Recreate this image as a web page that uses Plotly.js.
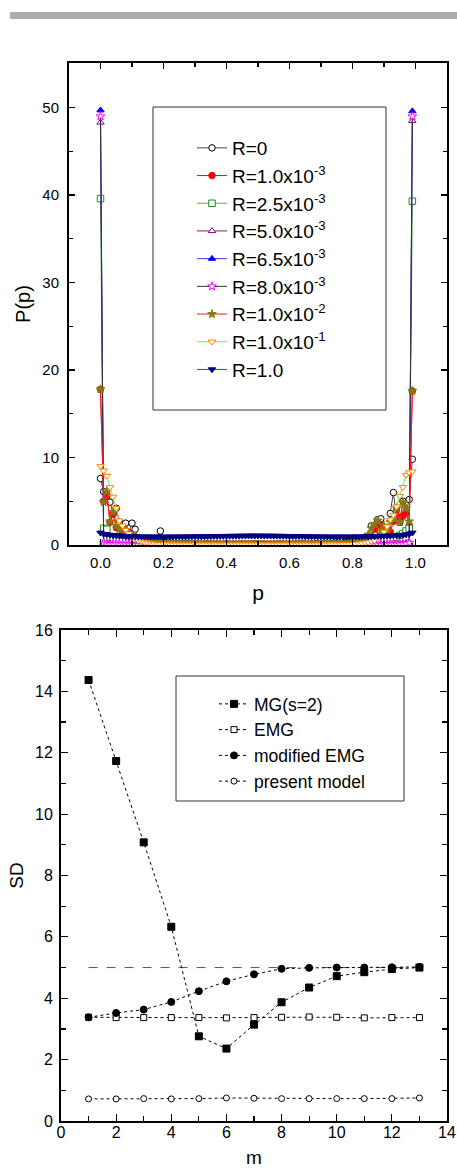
<!DOCTYPE html>
<html>
<head>
<meta charset="utf-8">
<script src="https://cdn.plot.ly/plotly-3.0.1.min.js"></script>
<style>html,body{margin:0;padding:0;background:#fff;}#chart{width:457px;height:1175px;}</style>
</head>
<body>
<div id="chart"></div>
<script>
// ---------- Top panel: P(p) vs p ----------
const P = [0,0.01,0.02,0.03,0.04,0.05,0.06,0.07,0.08,0.09,
0.10,0.11,0.12,0.13,0.14,0.15,0.16,0.17,0.18,0.19,
0.20,0.21,0.22,0.23,0.24,0.25,0.26,0.27,0.28,0.29,
0.30,0.31,0.32,0.33,0.34,0.35,0.36,0.37,0.38,0.39,
0.40,0.41,0.42,0.43,0.44,0.45,0.46,0.47,0.48,0.49,
0.50,0.51,0.52,0.53,0.54,0.55,0.56,0.57,0.58,0.59,
0.60,0.61,0.62,0.63,0.64,0.65,0.66,0.67,0.68,0.69,
0.70,0.71,0.72,0.73,0.74,0.75,0.76,0.77,0.78,0.79,
0.80,0.81,0.82,0.83,0.84,0.85,0.86,0.87,0.88,0.89,
0.90,0.91,0.92,0.93,0.94,0.95,0.96,0.97,0.98,0.99];

const R_0 = [7.6,6.1,5.6,4.9,3.6,4.2,2.6,2.2,2.5,1.4,
2.5,1.8,0.6,0.45,0.5,0.3,0.4,0.25,0.3,1.6,
0.3,0.2,0.25,0.15,0.2,0.1,0.15,0.2,0.1,0.15,
0.1,0.12,0.08,0.1,0.15,0.1,0.05,0.1,0.08,0.1,
0.12,0.1,0.05,0.08,0.1,0.12,0.1,0.08,0.1,0.15,
0.1,0.12,0.1,0.05,0.1,0.08,0.1,0.12,0.1,0.05,
0.1,0.08,0.12,0.1,0.15,0.1,0.08,0.1,0.12,0.15,
0.1,0.2,0.15,0.1,0.2,0.25,0.15,0.2,0.3,0.25,
0.3,0.4,0.35,0.5,0.6,0.9,2.2,1.2,2.9,3.0,
2.0,1.5,3.6,6.0,3.0,2.6,5.0,3.7,5.2,9.8];

const R_1e3 = [17.8,5.0,5.8,2.6,3.5,2.0,1.9,1.5,1.6,1.1,
1.2,0.8,0.6,0.5,0.45,0.35,0.3,0.3,0.25,0.2,
0.2,0.15,0.15,0.12,0.1,0.1,0.1,0.08,0.1,0.08,
0.07,0.08,0.06,0.07,0.05,0.06,0.05,0.06,0.05,0.05,
0.05,0.04,0.05,0.05,0.04,0.05,0.04,0.05,0.05,0.04,
0.05,0.04,0.05,0.04,0.05,0.05,0.04,0.05,0.05,0.06,
0.05,0.06,0.05,0.06,0.07,0.06,0.07,0.08,0.07,0.08,
0.1,0.08,0.1,0.12,0.1,0.15,0.12,0.2,0.2,0.25,
0.3,0.35,0.4,0.5,0.7,1.0,1.0,1.8,2.6,2.2,
1.4,2.0,1.5,2.7,4.0,3.2,3.3,3.8,2.3,17.6];

const R_25e4 = [39.6,1.9,1.8,0.9,0.7,0.55,0.45,0.4,0.35,0.3,
0.28,0.25,0.22,0.2,0.18,0.16,0.15,0.14,0.12,0.12,
0.1,0.1,0.1,0.09,0.09,0.08,0.08,0.08,0.07,0.07,
0.07,0.06,0.07,0.06,0.06,0.06,0.05,0.06,0.05,0.06,
0.05,0.05,0.06,0.05,0.05,0.05,0.06,0.05,0.05,0.05,
0.05,0.06,0.05,0.05,0.05,0.06,0.05,0.06,0.05,0.06,
0.06,0.05,0.06,0.06,0.07,0.06,0.07,0.07,0.08,0.08,
0.08,0.09,0.09,0.1,0.1,0.11,0.12,0.12,0.14,0.15,
0.16,0.18,0.2,0.22,0.25,0.28,0.3,0.35,0.4,0.45,
0.5,0.6,0.7,0.8,0.9,1.1,1.3,1.6,1.9,39.3];

const R_5e3 = [48.3,0.3,0.2,0.15,0.12,0.1,0.08,0.07,0.06,0.05,
0.05,0.05,0.05,0.04,0.04,0.04,0.04,0.04,0.04,0.04,
0.04,0.05,0.04,0.04,0.05,0.04,0.04,0.04,0.05,0.04,
0.04,0.04,0.05,0.04,0.04,0.04,0.05,0.04,0.04,0.04,
0.05,0.04,0.04,0.04,0.05,0.04,0.04,0.05,0.04,0.04,
0.04,0.05,0.04,0.04,0.04,0.05,0.04,0.04,0.05,0.04,
0.04,0.04,0.05,0.04,0.04,0.05,0.04,0.04,0.04,0.05,
0.04,0.04,0.05,0.04,0.04,0.04,0.05,0.04,0.04,0.05,
0.04,0.05,0.05,0.05,0.05,0.05,0.05,0.05,0.05,0.05,
0.06,0.07,0.08,0.1,0.12,0.15,0.2,0.25,0.3,48.5];

const R_65e4 = [49.7,0.2,0.12,0.1,0.08,0.06,0.05,0.05,0.05,0.05,
0.05,0.05,0.04,0.04,0.04,0.04,0.04,0.04,0.04,0.04,
0.04,0.04,0.04,0.04,0.04,0.04,0.04,0.04,0.04,0.04,
0.04,0.04,0.04,0.05,0.04,0.04,0.04,0.04,0.05,0.04,
0.04,0.04,0.04,0.04,0.05,0.04,0.04,0.04,0.04,0.04,
0.04,0.05,0.04,0.04,0.04,0.04,0.04,0.05,0.04,0.04,
0.04,0.04,0.05,0.04,0.04,0.04,0.04,0.05,0.04,0.04,
0.04,0.04,0.05,0.04,0.04,0.04,0.04,0.04,0.04,0.04,
0.04,0.04,0.04,0.04,0.04,0.04,0.04,0.05,0.05,0.05,
0.05,0.05,0.05,0.05,0.06,0.08,0.1,0.12,0.2,49.6];

const R_8e3 = [49.0,0.25,0.15,0.12,0.1,0.1,0.08,0.08,0.07,0.06,
0.05,0.05,0.04,0.04,0.04,0.04,0.04,0.04,0.04,0.04,
0.04,0.04,0.04,0.04,0.04,0.04,0.04,0.04,0.04,0.04,
0.04,0.05,0.04,0.04,0.04,0.05,0.04,0.04,0.05,0.04,
0.04,0.04,0.05,0.04,0.04,0.04,0.05,0.04,0.04,0.05,
0.04,0.04,0.05,0.04,0.04,0.05,0.04,0.04,0.04,0.05,
0.04,0.05,0.04,0.04,0.05,0.04,0.04,0.05,0.04,0.05,
0.04,0.04,0.04,0.04,0.04,0.04,0.04,0.04,0.04,0.04,
0.04,0.04,0.04,0.04,0.04,0.05,0.05,0.05,0.05,0.05,
0.06,0.07,0.08,0.08,0.1,0.1,0.12,0.15,0.25,49.0];

const R_1e2 = [17.8,4.9,6.1,2.7,3.8,2.2,1.8,1.9,1.3,1.2,
0.9,1.0,0.7,0.5,0.4,0.35,0.3,0.25,0.2,0.2,
0.15,0.15,0.12,0.1,0.1,0.08,0.08,0.07,0.07,0.06,
0.06,0.05,0.05,0.06,0.05,0.05,0.04,0.05,0.05,0.04,
0.05,0.05,0.04,0.05,0.05,0.04,0.05,0.05,0.04,0.05,
0.05,0.04,0.05,0.05,0.04,0.05,0.05,0.04,0.05,0.05,
0.05,0.06,0.05,0.06,0.06,0.07,0.06,0.07,0.07,0.08,
0.08,0.1,0.1,0.12,0.12,0.15,0.18,0.2,0.25,0.3,
0.35,0.4,0.5,0.6,0.8,1.2,1.9,2.4,2.8,1.6,
2.2,1.7,2.6,3.0,4.2,2.6,4.9,4.2,2.7,17.6];

const R_1e1 = [9.0,8.5,7.9,6.6,5.5,4.2,2.8,2.2,1.7,1.3,
0.9,0.7,0.5,0.4,0.3,0.25,0.2,0.15,0.12,0.1,
0.08,0.07,0.06,0.06,0.05,0.05,0.05,0.04,0.05,0.04,
0.05,0.04,0.05,0.05,0.04,0.05,0.04,0.05,0.04,0.05,
0.05,0.04,0.05,0.04,0.05,0.05,0.04,0.05,0.04,0.05,
0.05,0.04,0.05,0.05,0.04,0.05,0.04,0.05,0.05,0.04,
0.05,0.05,0.04,0.05,0.04,0.05,0.05,0.04,0.05,0.05,
0.05,0.05,0.06,0.05,0.06,0.06,0.07,0.07,0.08,0.09,
0.1,0.12,0.15,0.2,0.25,0.3,0.4,0.5,0.7,1.0,
1.5,2.1,2.9,3.4,4.4,5.6,6.6,8.0,8.3,8.4];

const R_1 = [1.4,1.25,1.2,1.15,1.1,1.1,1.05,1.05,1.0,1.0,
0.98,0.97,0.97,0.96,0.95,0.96,0.95,0.94,0.95,0.95,
0.94,0.95,0.94,0.95,0.95,0.96,0.95,0.96,0.96,0.97,
0.97,0.98,0.97,0.98,0.99,0.99,1.0,1.0,1.01,1.02,
1.02,1.03,1.03,1.04,1.04,1.05,1.05,1.06,1.06,1.06,
1.06,1.06,1.05,1.05,1.05,1.04,1.04,1.03,1.03,1.02,
1.01,1.0,1.0,0.99,0.99,0.98,0.98,0.97,0.97,0.96,
0.96,0.96,0.95,0.95,0.95,0.94,0.95,0.95,0.94,0.95,
0.95,0.96,0.96,0.97,0.97,0.98,0.99,1.0,1.0,1.02,
1.03,1.05,1.05,1.08,1.1,1.1,1.15,1.2,1.25,1.4];

const topNames = ['R=0','R=1.0x10<sup>-3</sup>','R=2.5x10<sup>-3</sup>','R=5.0x10<sup>-3</sup>',
  'R=6.5x10<sup>-3</sup>','R=8.0x10<sup>-3</sup>','R=1.0x10<sup>-2</sup>','R=1.0x10<sup>-1</sup>','R=1.0'];

// ---------- Bottom panel: SD vs m ----------
const M = [1,2,3,4,5,6,7,8,9,10,11,12,13];
const SD_MG = [14.37,11.73,9.08,6.33,2.76,2.36,3.14,3.87,4.35,4.72,4.85,4.95,5.0];
const SD_EMG = [3.38,3.37,3.37,3.37,3.37,3.36,3.37,3.38,3.39,3.38,3.36,3.37,3.37];
const SD_modEMG = [3.38,3.52,3.63,3.88,4.23,4.55,4.78,4.96,4.99,5.0,5.0,5.01,5.02];
const SD_present = [0.72,0.72,0.73,0.72,0.73,0.75,0.74,0.73,0.73,0.73,0.73,0.73,0.75];
const REF_M = [1,13];
const REF_SD = [5,5];
const bottomNames = ['MG(s=2)','EMG','modified EMG','present model'];

const FONT = 'Liberation Sans, Arial, Helvetica, sans-serif';
const W = 457, H = 1175;
const px = v => v / W;
const py = v => 1 - v / H;

const topSeries = [R_0,R_1e3,R_25e4,R_5e3,R_65e4,R_8e3,R_1e2,R_1e1,R_1];
const topStyle = [
  {line:'#444444', sym:'circle', fill:'#ffffff', edge:'#000000'},
  {line:'#ff0000', sym:'circle', fill:'#ff0000', edge:'#ff0000'},
  {line:'#55b455', sym:'square', fill:'#ffffff', edge:'#1e8a1e'},
  {line:'#8b1a8b', sym:'triangle-up', fill:'#ffffff', edge:'#800080'},
  {line:'#3b3bff', sym:'triangle-up', fill:'#0000ff', edge:'#0000ff'},
  {line:'#333333', sym:'star', fill:'#ffffff', edge:'#ff00ff'},
  {line:'#ff1a1a', sym:'star', fill:'#7f7f10', edge:'#7f7f10'},
  {line:'#66ee66', sym:'triangle-down', fill:'#ffffff', edge:'#ff8000'},
  {line:'#3b3bff', sym:'triangle-down', fill:'#000080', edge:'#000080'}
];

const traces = [];
topSeries.forEach((ys, i) => {
  const s = topStyle[i];
  traces.push({
    type:'scatter', mode:'lines+markers', x:P, y:ys, name:topNames[i],
    xaxis:'x', yaxis:'y', legend:'legend',
    line:{color:s.line, width:1},
    marker:{symbol:s.sym, size:6.5, color:s.fill, line:{color:s.edge, width:1}}
  });
});

traces.push({type:'scatter', mode:'lines', x:REF_M, y:REF_SD, xaxis:'x2', yaxis:'y2',
  showlegend:false, line:{color:'#555555', width:1, dash:'dash'}});
// invisible carrier so the label-only overlay axis (x3) is drawn
traces.push({type:'scatter', mode:'lines', x:REF_M, y:REF_SD, xaxis:'x3', yaxis:'y2',
  showlegend:false, opacity:0, hoverinfo:'skip', line:{width:1, color:'#fff'}});
const botSeries = [SD_MG, SD_EMG, SD_modEMG, SD_present];
const botStyle = [
  {sym:'square', fill:'#000000', size:7},
  {sym:'square', fill:'#ffffff', size:6},
  {sym:'circle', fill:'#000000', size:7},
  {sym:'circle', fill:'#ffffff', size:6}
];
botSeries.forEach((ys, i) => {
  const s = botStyle[i];
  traces.push({
    type:'scatter', mode:'lines+markers', x:M, y:ys, name:bottomNames[i],
    xaxis:'x2', yaxis:'y2', legend:'legend2',
    line:{color:'#000000', width:1, dash:'dot'},
    marker:{symbol:s.sym, size:s.size, color:s.fill, line:{color:'#000000', width:1}}
  });
});

const axBase = {
  showgrid:false, zeroline:false, showline:true, linecolor:'#000', linewidth:2,
  mirror:'ticks', ticks:'inside', tickcolor:'#000', tickwidth:1.2,
  tickfont:{family:FONT, size:15, color:'#000'}
};

const layout = {
  width:W, height:H, margin:{l:0,r:0,t:0,b:0},
  paper_bgcolor:'#fff', plot_bgcolor:'#fff', showlegend:true,
  font:{family:FONT, color:'#000'},
  xaxis: Object.assign({}, axBase, {
    domain:[px(69), px(447)], anchor:'y', range:[-0.1,1.1],
    tick0:0, dtick:0.2, tickformat:'.1f', ticklen:6, ticklabelstandoff:3,
    minor:{dtick:0.1, tick0:0, ticks:'inside', ticklen:4, tickcolor:'#000'},
    title:{text:'p', font:{family:FONT, size:21}, standoff:15}
  }),
  yaxis: Object.assign({}, axBase, {
    domain:[py(545), py(63)], anchor:'x', range:[0,55.1],
    tick0:0, dtick:10, ticklen:6, ticklabelstandoff:5,
    minor:{dtick:5, tick0:0, ticks:'inside', ticklen:4, tickcolor:'#000'},
    title:{text:'P(p)', font:{family:FONT, size:20}, standoff:6}
  }),
  xaxis2: Object.assign({}, axBase, {
    domain:[px(61), px(447)], anchor:'y2', range:[0,14],
    tick0:0, dtick:2, ticklen:7, showticklabels:false,
    minor:{dtick:1, tick0:0, ticks:'inside', ticklen:5, tickcolor:'#000'}
  }),
  xaxis3: {
    domain:[px(61), px(447)], overlaying:'x2', anchor:'free', position:py(1121), side:'bottom',
    range:[0,14], tick0:0, dtick:2, ticks:'', showline:false, showgrid:false, zeroline:false,
    tickfont:{family:FONT, size:16, color:'#000'},
    title:{text:'m', font:{family:FONT, size:19}, standoff:10}
  },
  yaxis2: Object.assign({}, axBase, {
    domain:[py(1121), py(630)], anchor:'x2', range:[0,16],
    tick0:0, dtick:2, ticklen:7, ticklabelstandoff:3,
    tickfont:{family:FONT, size:16, color:'#000'},
    minor:{dtick:1, tick0:0, ticks:'inside', ticklen:5, tickcolor:'#000'},
    title:{text:'SD', font:{family:FONT, size:19}, standoff:6}
  }),
  legend:{x:px(192), y:py(129), xanchor:'left', yanchor:'top', bgcolor:'rgba(0,0,0,0)',
    borderwidth:0, font:{family:FONT, size:19, color:'#000'}, traceorder:'normal'},
  legend2:{x:px(214), y:py(686), xanchor:'left', yanchor:'top', bgcolor:'rgba(0,0,0,0)',
    borderwidth:0, font:{family:FONT, size:17.5, color:'#000'}, traceorder:'normal'},
  shapes:[
    {type:'rect', xref:'paper', yref:'paper', x0:px(10), x1:1, y0:py(19), y1:py(12),
      fillcolor:'#adadad', line:{width:0}},
    {type:'rect', xref:'paper', yref:'paper', x0:px(153), x1:px(386), y0:py(410), y1:py(107),
      fillcolor:'#ffffff', line:{color:'#333', width:1}, layer:'below'},
    {type:'rect', xref:'paper', yref:'paper', x0:px(176), x1:px(404), y0:py(801), y1:py(676),
      fillcolor:'#ffffff', line:{color:'#333', width:1}, layer:'below'}
  ]
};

Plotly.newPlot('chart', traces, layout, {staticPlot:true, displayModeBar:false});
</script>
</body>
</html>
